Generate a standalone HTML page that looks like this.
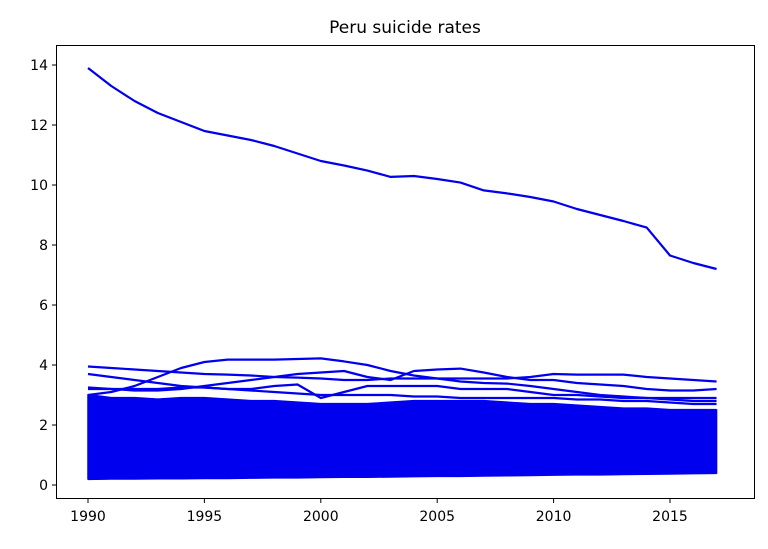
<!DOCTYPE html>
<html><head><meta charset="utf-8"><style>
body{margin:0;background:#fff;}
svg{display:block;font-family:"DejaVu Sans","Liberation Sans",sans-serif;}
</style></head><body>
<svg id="chart" width="768" height="549" viewBox="0 0 768 549">
<rect width="768" height="549" fill="#fff"/>
<text x="405" y="33" font-size="17" text-anchor="middle" fill="#000">Peru suicide rates</text>
<g id="marks"></g>
<rect x="56.5" y="45.5" width="698" height="453" fill="none" stroke="#000" stroke-width="1"/>
<g id="axes"></g>
</svg>
<script>
const years=[1990,1991,1992,1993,1994,1995,1996,1997,1998,1999,2000,2001,2002,2003,2004,2005,2006,2007,2008,2009,2010,2011,2012,2013,2014,2015,2016,2017];
const xTicks=[1990,1995,2000,2005,2010,2015];
const yTicks=[0,2,4,6,8,10,12,14];
const seriesTop=[13.9,13.3,12.8,12.4,12.1,11.8,11.65,11.5,11.3,11.05,10.8,10.65,10.48,10.27,10.3,10.2,10.08,9.82,9.72,9.6,9.45,9.2,9.0,8.8,8.58,7.65,7.4,7.2];
const seriesA=[3.95,3.9,3.85,3.8,3.75,3.7,3.68,3.65,3.6,3.58,3.55,3.5,3.5,3.55,3.55,3.55,3.55,3.55,3.55,3.6,3.7,3.68,3.68,3.68,3.6,3.55,3.5,3.45];
const seriesB=[3.0,3.1,3.3,3.6,3.9,4.1,4.18,4.18,4.18,4.2,4.22,4.12,4.0,3.8,3.65,3.55,3.45,3.4,3.38,3.3,3.2,3.1,3.0,2.95,2.9,2.85,2.8,2.8];
const seriesC=[3.7,3.6,3.5,3.4,3.3,3.25,3.2,3.15,3.1,3.05,3.0,3.0,3.0,3.0,2.95,2.95,2.9,2.9,2.9,2.9,2.9,2.85,2.85,2.8,2.8,2.75,2.7,2.7];
const seriesD=[3.2,3.2,3.15,3.15,3.2,3.3,3.4,3.5,3.6,3.7,3.75,3.8,3.6,3.5,3.8,3.85,3.88,3.75,3.6,3.5,3.5,3.4,3.35,3.3,3.2,3.15,3.15,3.2];
const seriesE=[3.25,3.2,3.2,3.2,3.25,3.25,3.2,3.2,3.3,3.35,2.9,3.1,3.3,3.3,3.3,3.3,3.2,3.2,3.2,3.1,3.0,3.0,2.95,2.9,2.9,2.9,2.9,2.9];
const envelopeUpper=[3.0,2.9,2.9,2.85,2.9,2.9,2.85,2.8,2.8,2.75,2.7,2.7,2.7,2.75,2.8,2.8,2.8,2.8,2.75,2.7,2.7,2.65,2.6,2.55,2.55,2.5,2.5,2.5];
const envelopeLower=[0.2,0.21,0.21,0.22,0.22,0.23,0.23,0.24,0.25,0.25,0.26,0.27,0.27,0.28,0.29,0.3,0.3,0.31,0.32,0.33,0.34,0.35,0.35,0.36,0.37,0.38,0.39,0.4];
const x=v=>88+(v-1990)*23.28;
const y=v=>485-v*30;
const NS="http://www.w3.org/2000/svg";
const marks=document.getElementById('marks');
const axes=document.getElementById('axes');
function mk(tag,attrs,parent){const e=document.createElementNS(NS,tag);for(const k in attrs)e.setAttribute(k,attrs[k]);parent.appendChild(e);return e;}
let pts=years.map((yr,i)=>x(yr)+','+y(envelopeUpper[i]));
pts=pts.concat(years.map((yr,i)=>x(yr)+','+y(envelopeLower[i])).reverse());
const env=mk('polygon',{points:pts.join(' '),fill:'#0000ee',stroke:'#0000ee','stroke-width':1.5},marks);


const lines=[['series-top',seriesTop],['series-a',seriesA],['series-b',seriesB],['series-c',seriesC],['series-d',seriesD],['series-e',seriesE],['series-upper-edge',envelopeUpper],['series-lower-edge',envelopeLower]];
lines.forEach(([n,arr])=>{
  const p=mk('polyline',{points:years.map((yr,i)=>x(yr)+','+y(arr[i])).join(' '),fill:'none',stroke:'#0000ee','stroke-width':2.2,'stroke-linejoin':'round'},marks);
  
  
});
xTicks.forEach(t=>{
  const l=mk('line',{x1:x(t),x2:x(t),y1:499,y2:503,stroke:'#000'},axes);
  
  
  const tx=mk('text',{x:x(t),y:521,'font-size':14,'text-anchor':'middle'},axes);
  tx.textContent=t;
  
  
});
yTicks.forEach(t=>{
  const l=mk('line',{x1:52,x2:56,y1:y(t),y2:y(t),stroke:'#000'},axes);
  
  
  const tx=mk('text',{x:48,y:y(t)+5,'font-size':14,'text-anchor':'end'},axes);
  tx.textContent=t;
  
  
});
</script>
</body></html>
